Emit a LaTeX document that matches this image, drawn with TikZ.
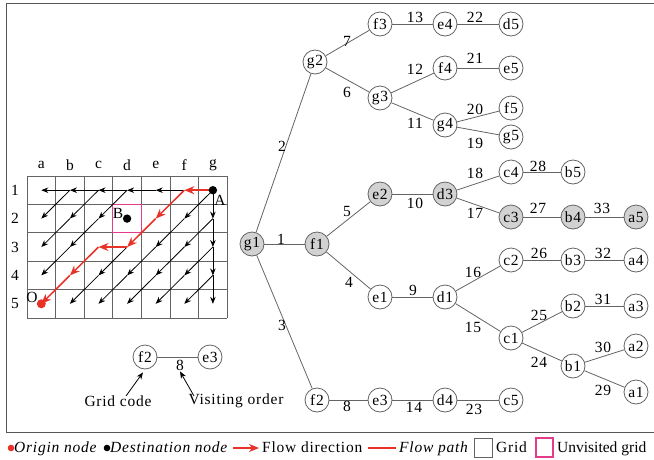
\documentclass[tikz,border=0pt]{standalone}
\usepackage{fontspec}
\setmainfont{Liberation Serif}[LetterSpace=5]
\usetikzlibrary{arrows.meta}
\definecolor{flowred}{RGB}{232,50,40}
\definecolor{unvis}{RGB}{228,60,140}
\definecolor{edgegray}{RGB}{100,100,100}
\definecolor{nodegray}{RGB}{210,210,210}
\definecolor{framegray}{RGB}{85,85,85}
\begin{document}
\begin{tikzpicture}[x=1pt,y=-1pt,
  font=\fontsize{15.5}{17}\selectfont,
  gnode/.style={circle,draw=edgegray,line width=0.8pt,minimum size=24pt,inner sep=0pt,fill=white},
  hnode/.style={gnode,fill=nodegray},
  tedge/.style={draw=edgegray,line width=0.8pt},
  lbl/.style={inner sep=0pt},
  gridline/.style={draw=edgegray,line width=0.8pt},
  garrow/.style={-{Stealth[length=7pt,width=5.5pt]},line width=0.8pt,black},
  rarrow/.style={-{Stealth[length=10pt,width=8pt]},line width=1.5pt,flowred},
  legtext/.style={anchor=base west,inner sep=0pt}]
\clip (0,0) rectangle (654,459);
\fill[white] (0,0) rectangle (654,459);
% frame
\draw[framegray,line width=1pt] (660,3) -- (6,3) -- (6,432) -- (660,432);

% grid
\foreach \i in {0,...,7} \draw[gridline] ({27+28.6*\i},176) -- ({27+28.6*\i},318);
\foreach \j in {0,...,5} \draw[gridline] (27,{176+28.4*\j}) -- (227.2,{176+28.4*\j});
\foreach \c [count=\i from 0] in {a,b,c,d,e,f,g} {
  \node[lbl] (col\c) at ({41.3+28.6*\i},165) {\c};
  \foreach \r in {1,...,5} {
    \coordinate (G\c\r) at ({41.3+28.6*\i},{190.2+28.4*(\r-1)});
  }
}
\foreach \r in {1,...,5} \node[lbl] (row\r) at (15,{190.2+28.4*(\r-1)}) {\r};

% unvisited cell
\draw[unvis,line width=1.2pt] (112.8,204.4) rectangle (141.4,232.8);

% black flow arrows
\foreach \s/\t in {Gf1/Ge1,Ge1/Gd1,Gd1/Gc1,Gc1/Gb1,Gb1/Ga1,
  Gg1/Gg2,Gg2/Gg3,Gg3/Gg4,Gg4/Gg5,
  Gg1/Gf2,Gf2/Ge3,Ge3/Gd4,Gd4/Gc5,
  Gg2/Gf3,Gf3/Ge4,Ge4/Gd5,
  Gg3/Gf4,Gf4/Ge5,
  Gg4/Gf5,
  Gd1/Gc2,Gc2/Gb3,Gb3/Ga4,
  Gc1/Gb2,Gb2/Ga3,
  Gb1/Ga2,
  Gd3/Gc4,Gc4/Gb5}
  \draw[garrow] (\s) -- (\t);
% red flow path
\foreach \s/\t in {Gg1/Gf1,Gf1/Ge2,Ge2/Gd3,Gd3/Gc3,Gc3/Gb4,Gb4/Ga5}
  \draw[rarrow] (\s) -- (\t);

% points
\fill[black] (Gg1) circle (4.2);
\node[lbl] (labA) at (220,200) {A};
\fill[black] (Gd2) circle (4.2);
\node[lbl] (labB) at (118,213) {B};
\fill[flowred] (Ga5) circle (4.5);
\node[lbl] (labO) at (32,297) {O};

% tree nodes
\foreach \n/\x/\y/\s in {
  g1/252/244/hnode, f1/317/244/hnode, g2/315/62/gnode,
  f3/380/24/gnode, e4/445/24/gnode, d5/511/24/gnode,
  g3/380/98/gnode, f4/445/68/gnode, e5/511/68/gnode,
  g4/445/125/gnode, f5/511/108/gnode, g5/511/137/gnode,
  c4/511/172/gnode, b5/573/172/gnode,
  e2/380/194/hnode, d3/445/194/hnode, c3/511/217/hnode, b4/573/217/hnode, a5/636/217/hnode,
  e1/380/297/gnode, d1/445/297/gnode, c2/511/260/gnode, b3/573/260/gnode, a4/636/260/gnode,
  c1/511/338/gnode, b2/573/306/gnode, a3/636/306/gnode,
  b1/573/366/gnode, a2/636/346/gnode, a1/636/392/gnode,
  f2/317/400/gnode, e3/380/400/gnode, d4/445/400/gnode, c5/511/400/gnode}
  \node[\s] (\n) at (\x,\y) {\n};

\foreach \a/\b in {g1/f1,g1/g2,g1/f2,f1/e1,f1/e2,g2/g3,g2/f3,f2/e3,e1/d1,e2/d3,
  g3/g4,g3/f4,f3/e4,e3/d4,d1/c1,d1/c2,d3/c3,d3/c4,g4/g5,g4/f5,f4/e5,e4/d5,d4/c5,
  c1/b1,c1/b2,c2/b3,c3/b4,c4/b5,b1/a1,b1/a2,b2/a3,b3/a4,b4/a5}
  \draw[tedge] (\a) -- (\b);

\foreach \k/\x/\y in {1/281/239, 2/282/146, 3/282/325, 4/349/282, 5/347/211,
  6/347/92, 7/347/41, 8/347/406, 9/413/290, 10/415/203, 11/415/123, 12/415/69,
  13/415/17, 14/414/407, 15/473/327, 16/473/272, 17/475/213, 18/475/173,
  19/475/143, 20/475/109, 21/475/58, 22/475/17, 23/474/409, 24/539/362,
  25/539/315, 26/539/253, 27/538/208, 28/538/166, 29/603/390, 30/603/347,
  31/603/299, 32/603/253, 33/602/208}
  \node[lbl] (lab\k) at (\x,\y) {\k};

% small legend tree
\node[gnode] (lf2) at (145,357) {f2};
\node[gnode] (le3) at (210,357) {e3};
\draw[tedge] (lf2) -- (le3);
\node[lbl] (lg8) at (180,365) {8};
\node[lbl] (gridcode) at (118,401) {Grid code};
\node[lbl] (visorder) at (236,401) {Visiting order};
\coordinate (gcTail) at (126,396);
\coordinate (voTail) at (194,396);
\draw[garrow] (gcTail) -- ([xshift=-2pt,yshift=-3pt]lf2.south);
\draw[garrow] (voTail) -- ([yshift=-1pt]lg8.south);

% bottom legend
\fill[flowred] (11,448) circle (3.3);
\node[legtext] (lgO) at (14,452) {\itshape Origin node};
\fill[black] (107,448) circle (3.3);
\node[legtext] (lgD) at (110,452) {\itshape Destination node};
\coordinate (lgArrS) at (233,448);
\coordinate (lgArrE) at (259,448);
\draw[rarrow] (lgArrS) -- (lgArrE);
\node[legtext] (lgF) at (262,452) {Flow direction};
\coordinate (lgLineS) at (368,448);
\coordinate (lgLineE) at (396,448);
\draw[flowred,line width=1.5pt] (lgLineS) -- (lgLineE);
\node[legtext] (lgP) at (399,452) {\itshape Flow path};
\draw[edgegray,line width=0.9pt] (474,438) rectangle (492,457);
\node[legtext] (lgG) at (496,452) {Grid};
\draw[unvis,line width=1.1pt] (536,438) rectangle (553,457);
\node[legtext] (lgU) at (557,452) {\addfontfeature{LetterSpace=0}Unvisited grid};
\end{tikzpicture}
\end{document}
